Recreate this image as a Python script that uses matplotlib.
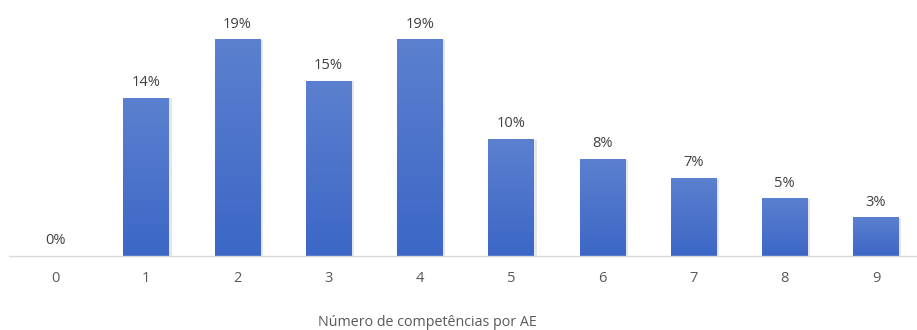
import numpy as np
import matplotlib.pyplot as plt
from matplotlib.colors import LinearSegmentedColormap

# dados
categorias = ["0", "1", "2", "3", "4", "5", "6", "7", "8", "9"]
valores = [0.0, 14.1, 19.3, 15.6, 19.3, 10.4, 8.6, 6.9, 5.1, 3.4]
rotulos = ["0%", "14%", "19%", "15%", "19%", "10%", "8%", "7%", "5%", "3%"]

plt.rcParams['font.family'] = ['Open Sans', 'DejaVu Sans']

fig = plt.figure(figsize=(9.17, 3.3), dpi=100)
ax = fig.add_axes([9.4 / 917, 1 - 256 / 330, 1 - 9.4 / 917, 256 / 330])

x = np.arange(len(categorias))
largura = 0.5
cmap = LinearSegmentedColormap.from_list("grad", ["#3c67c6", "#5b80cf"])
grad = np.linspace(0, 1, 100).reshape(-1, 1)

# barras com gradiente
barras = ax.bar(x, valores, width=largura, color="none", edgecolor="none")
for b, v in zip(barras, valores):
    if v <= 0:
        continue
    x0 = b.get_x()
    # sombra leve
    ax.bar(b.get_x() + largura / 2 + 0.015, v, width=largura + 0.03,
           color="#b8b8b8", alpha=0.35, zorder=1)
    ax.imshow(grad, extent=(x0, x0 + largura, 0, v), origin="lower",
              cmap=cmap, aspect="auto", zorder=2)

for xi, v, r in zip(x, valores, rotulos):
    ax.text(xi, v + 0.75, r, ha="center", va="bottom", fontsize=10.5, color="#404040")

ax.set_xlim(-0.5, 9.45)
ax.set_ylim(0, 22.87)
ax.set_xticks(x)
ax.set_xticklabels(categorias, fontsize=10.5, color="#595959")
ax.tick_params(axis="x", length=0, pad=11)
ax.set_yticks([])
for s in ["top", "right", "left"]:
    ax.spines[s].set_visible(False)
ax.spines["bottom"].set_color("#d9d9d9")
ax.spines["bottom"].set_linewidth(1)

fig.text(427 / 917, 1 - 323 / 330, "Número de competências por AE", ha="center",
         va="center", fontsize=10.3, color="#595959")

fig.savefig("out.png", dpi=100)
